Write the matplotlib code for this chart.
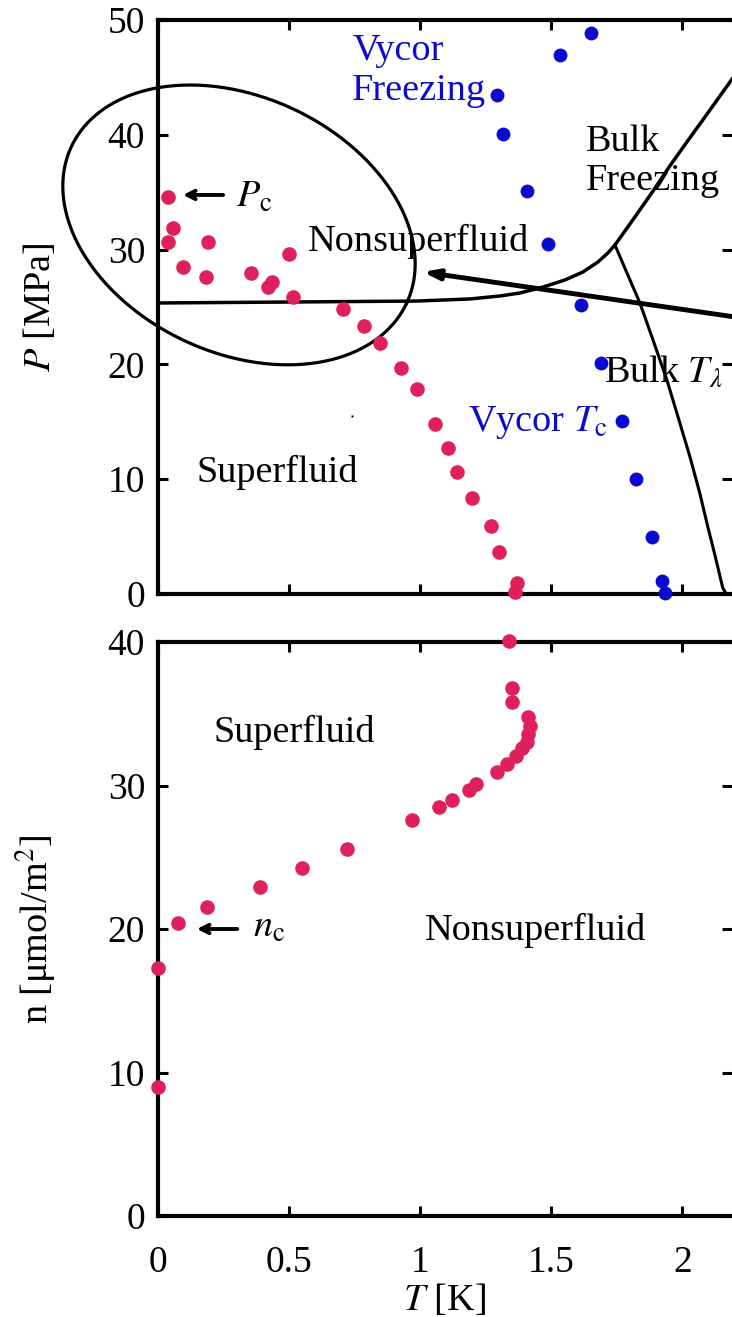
import numpy as np
import matplotlib
matplotlib.use("Agg")
from matplotlib import pyplot as plt

plt.rcParams['font.family'] = ['Liberation Serif', 'DejaVu Serif']
plt.rcParams['mathtext.fontset'] = 'stix'

## data
# Vycor superfluid onset (red) in the P-T plane
t_onset = [0.041, 0.058, 0.041, 0.194, 0.098, 0.185, 0.356, 0.435, 0.422, 0.501, 0.515,
           0.705, 0.787, 0.848, 0.926, 0.99, 1.057, 1.105, 1.142, 1.197, 1.27, 1.301, 1.368, 1.362]
p_onset = [34.55, 31.86, 30.64, 30.69, 28.51, 27.64, 27.94, 27.2, 26.7, 29.6, 25.9,
           24.83, 23.37, 21.84, 19.71, 17.86, 14.78, 12.74, 10.6, 8.34, 5.92, 3.63, 0.93, 0.2]

# Vycor freezing and Tc (blue)
t_vycor = [1.651, 1.533, 1.293, 1.316, 1.408, 1.488, 1.613, 1.690, 1.770, 1.823, 1.884, 1.922, 1.933]
p_vycor = [48.87, 46.95, 43.47, 40.07, 35.10, 30.49, 25.17, 20.12, 15.07, 10.02, 4.97, 1.13, 0.09]

# bulk melting curve and lambda line
t_melt = [0.0, 0.543, 0.99, 1.19, 1.305, 1.381, 1.469, 1.552, 1.621, 1.678, 1.716, 1.743,
          1.819, 1.888, 1.952, 2.017, 2.105, 2.2]
p_melt = [25.35, 25.44, 25.52, 25.7, 25.96, 26.22, 26.74, 27.35, 28.05, 28.92, 29.7, 30.4,
          32.84, 35.1, 37.28, 39.37, 42.16, 45.2]
t_lam = [1.743, 1.79, 1.838, 1.89, 1.941, 1.985, 2.029, 2.065, 2.097, 2.127, 2.154, 2.162]
p_lam = [30.4, 27.9, 25.35, 22.0, 18.64, 15.3, 11.93, 8.9, 5.84, 3.1, 0.52, 0.2]

# coverage n vs T (bottom panel)
t_cov = [0.0, 0.0, 0.079, 0.19, 0.39, 0.551, 0.722, 0.971, 1.071, 1.124, 1.188, 1.213,
         1.292, 1.330, 1.366, 1.387, 1.406, 1.410, 1.419, 1.413, 1.352, 1.349, 1.34]
n_cov = [9.01, 17.26, 20.4, 21.55, 22.95, 24.25, 25.57, 27.6, 28.52, 28.99, 29.69, 30.08,
         30.94, 31.5, 32.06, 32.59, 33.05, 33.59, 34.15, 34.75, 35.84, 36.77, 40.07]

x_ticks = [0, 0.5, 1, 1.5, 2]
x_ticklabels = ['0', '0.5', '1', '1.5', '2']

red = '#e0205a'
blue = '#0a0ad0'
tick_fs = 27
txt_fs = 27.5

W, H = 732, 1317
fig = plt.figure(figsize=(W / 100, H / 100), dpi=100)
left = 157.5 / W
ax1 = fig.add_axes([left, 1 - 594 / H, 1 - left, (594 - 20) / H])
ax2 = fig.add_axes([left, 1 - 1216 / H, 1 - left, (1216 - 642) / H])

for ax in (ax1, ax2):
    ax.set_xlim(0, 2.189)
    ax.set_xticks(x_ticks)
    ax.tick_params(direction='in', length=7, width=2.2, top=True, right=True,
                   labelsize=tick_fs, pad=9)
    ax.tick_params(axis='x', pad=21)
    for s in ax.spines.values():
        s.set_linewidth(3)
    ax.spines['right'].set_visible(False)

## top panel: P vs T
ax1.set_ylim(0, 50)
ax1.set_yticks([0, 10, 20, 30, 40, 50])
ax1.set_xticklabels([])
ax1.set_ylabel('$P$ [MPa]', fontsize=txt_fs, labelpad=36)

ax1.plot(t_melt, p_melt, color='k', lw=2.5)
ax1.plot(t_lam, p_lam, color='k', lw=2.2)
ax1.plot(t_onset, p_onset, 'o', color=red, ms=10.5, mec='none', clip_on=False, zorder=5)
ax1.plot(t_vycor, p_vycor, 'o', color=blue, ms=10, mec='none', clip_on=False, zorder=5)
ax1.plot([0.741], [15.5], 's', color='k', ms=2, mec='none')  # stray dot in the original

# ellipse around the low-T region (pixel based so the tilt looks right)
fig.canvas.draw()
cx, cy = ax1.transData.transform((0.3105, 32.15))
a_px, b_px, phi = 185, 128, np.deg2rad(-25)
tt = np.linspace(0, 2 * np.pi, 400)
ex = cx + a_px * np.cos(tt) * np.cos(phi) - b_px * np.sin(tt) * np.sin(phi)
ey = cy + a_px * np.cos(tt) * np.sin(phi) + b_px * np.sin(tt) * np.cos(phi)
ell = ax1.transData.inverted().transform(np.column_stack([ex, ey]))
ax1.plot(ell[:, 0], ell[:, 1], color='k', lw=2.3, clip_on=False)

ax1.annotate('', xy=(1.011, 28.05), xytext=(2.21, 24.1), annotation_clip=False,
             arrowprops=dict(arrowstyle='-|>,head_length=0.9,head_width=0.3', lw=3.5,
                             color='k', shrinkA=0, shrinkB=0))
ax1.annotate('', xy=(0.097, 34.76), xytext=(0.25, 34.76),
             arrowprops=dict(arrowstyle='->,head_length=0.6,head_width=0.3', lw=2.8,
                             color='k', shrinkA=0, shrinkB=0))

ax1.text(0.299, 33.7, r'$P_{\mathrm{c}}$', fontsize=txt_fs, va='baseline')
ax1.text(0.742, 45.6, 'Vycor\nFreezing', color=blue, fontsize=txt_fs, va='center',
         linespacing=1.2)
ax1.text(1.632, 37.7, 'Bulk\nFreezing', fontsize=txt_fs, va='center', linespacing=1.2)
ax1.text(0.573, 30.7, 'Nonsuperfluid', fontsize=txt_fs, va='center')
ax1.text(1.70, 19.3, r'Bulk $T_\lambda$', fontsize=txt_fs, va='center')
ax1.text(1.184, 14.9, r'Vycor $T_{\mathrm{c}}$', color=blue, fontsize=txt_fs, va='center')
ax1.text(0.147, 10.6, 'Superfluid', fontsize=txt_fs, va='center')

## bottom panel: n vs T
ax2.set_ylim(0, 40)
ax2.set_yticks([0, 10, 20, 30, 40])
ax2.set_xticklabels(x_ticklabels)
ax2.set_ylabel('n [μmol/m$^2$]', fontsize=txt_fs, labelpad=36)
ax2.set_xlabel('$T$ [K]', fontsize=txt_fs, labelpad=2)

ax2.plot(t_cov, n_cov, 'o', color=red, ms=10.5, mec='none', clip_on=False, zorder=5)
ax2.annotate('', xy=(0.150, 20.0), xytext=(0.304, 20.0),
             arrowprops=dict(arrowstyle='->,head_length=0.6,head_width=0.3', lw=2.8,
                             color='k', shrinkA=0, shrinkB=0))
ax2.text(0.364, 19.44, r'$n_{\mathrm{c}}$', fontsize=txt_fs, va='baseline')
ax2.text(0.215, 33.7, 'Superfluid', fontsize=txt_fs, va='center')
ax2.text(1.019, 19.9, 'Nonsuperfluid', fontsize=txt_fs, va='center')

plt.savefig('out.png', dpi=100)
